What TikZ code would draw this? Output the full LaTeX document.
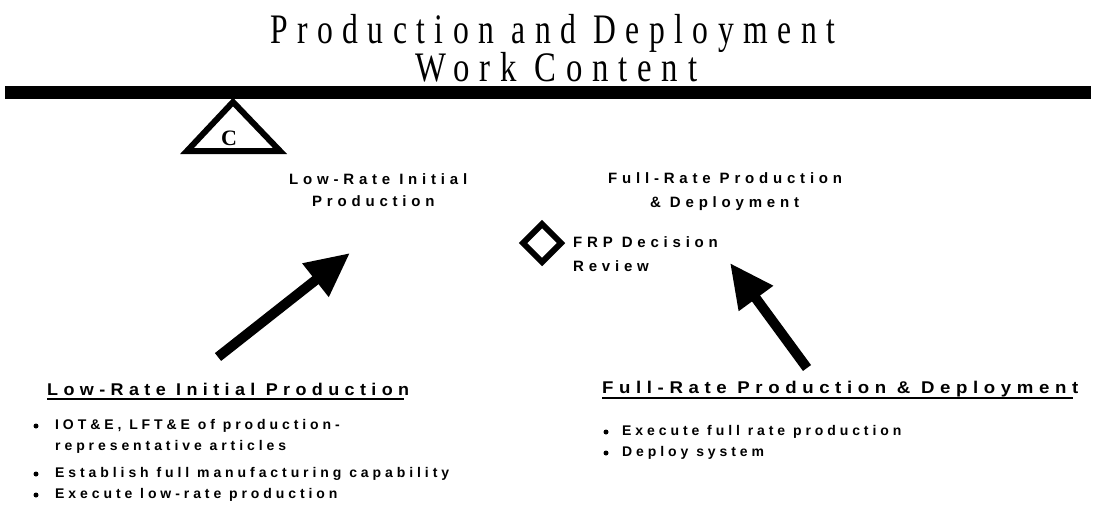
\documentclass[tikz,border=0pt]{standalone}
\usepackage{fontspec}
\usetikzlibrary{arrows.meta}
\newfontfamily\lspA[LetterSpace=32]{Liberation Sans}
\newfontfamily\lspB[LetterSpace=28]{Liberation Sans}
\newfontfamily\lspC[LetterSpace=30]{Liberation Sans}
\newfontfamily\ttl[LetterSpace=30]{Liberation Serif}
\newcommand\fitw[2]{\resizebox{#1}{\height}{#2}}
\tikzset{
  ttlnode/.style={inner sep=0pt, anchor=base west, font=\ttl\fontsize{42}{48}\selectfont},
  lbl/.style={inner sep=0pt, anchor=base west, font=\lspA\bfseries\fontsize{15}{18}\selectfont},
  head/.style={inner sep=0pt, anchor=base west, font=\lspC\bfseries\fontsize{17}{20}\selectfont},
  bul/.style={inner sep=0pt, anchor=base west, font=\lspB\bfseries\fontsize{14}{17}\selectfont},
  uline/.style={line width=1.8pt},
  dot/.style={fill, circle, inner sep=0pt, minimum size=5pt},
  bigarrow/.style={line width=10pt, -{Triangle[length=44pt,width=40pt]}},
}
\begin{document}
\begin{tikzpicture}[x=1pt,y=-1pt]
\useasboundingbox (0,0) rectangle (1096,507);
\fill[white] (0,0) rectangle (1096,507);
% title
\node[ttlnode] (t1) at (270,43) {\fitw{565pt}{Production and Deployment}};
\node[ttlnode] (t2) at (415,81) {\fitw{282pt}{Work Content}};
% bar
\fill (5,86) rectangle (1091,99);
% triangle C
\draw[line width=6pt, line join=miter] (233,102) -- (280,151) -- (187,151) -- cycle;
\node[inner sep=0pt, anchor=base] (c) at (229,145) {\fontspec{Liberation Serif}\bfseries\fontsize{22}{24}\selectfont C};
% upper labels
\node[lbl] (l1) at (289,184) {Low-Rate Initial};
\node[lbl] (l2) at (312,206) {Production};
\node[lbl] (f1) at (608,183) {Full-Rate Production};
\node[lbl] (f2) at (650,207) {\& Deployment};
% diamond
\draw[line width=6pt, line join=miter] (542,224) -- (561,243) -- (542,262) -- (523,243) -- cycle;
\node[lbl] (d1) at (573,247) {FRP Decision};
\node[lbl] (d2) at (573,271) {Review};
% arrows
\coordinate (a1s) at (218,357);
\coordinate (a1e) at (350,253);
\coordinate (a2s) at (807,368);
\coordinate (a2e) at (730,263);
\draw[bigarrow] (a1s) -- (a1e);
\draw[bigarrow] (a2s) -- (a2e);
% left block
\node[head] (lh) at (47,395) {\fitw{362pt}{Low-Rate Initial Production}};
\draw[uline] ([yshift=-4pt]lh.base west) -- ([yshift=-4pt,xshift=-5pt]lh.base east);
\node[bul] (lb1) at (55,429) {IOT\&E, LFT\&E of production-};
\node[bul] (lb1b) at (55,450) {representative articles};
\node[bul] (lb2) at (55,477) {Establish full manufacturing capability};
\node[bul] (lb3) at (55,498) {Execute low-rate production};
\node[dot] (ld1) at (36,426) {};
\node[dot] (ld2) at (36,474) {};
\node[dot] (ld3) at (36,495) {};
% right block
\node[head] (rh) at (602,393) {\fitw{476pt}{Full-Rate Production \& Deployment}};
\draw[uline] ([yshift=-5pt]rh.base west) -- ([yshift=-5pt,xshift=-5pt]rh.base east);
\node[bul] (rb1) at (622,435) {Execute full rate production};
\node[bul] (rb2) at (622,456) {Deploy system};
\node[dot] (rd1) at (606,432) {};
\node[dot] (rd2) at (606,453) {};
\end{tikzpicture}
\end{document}
